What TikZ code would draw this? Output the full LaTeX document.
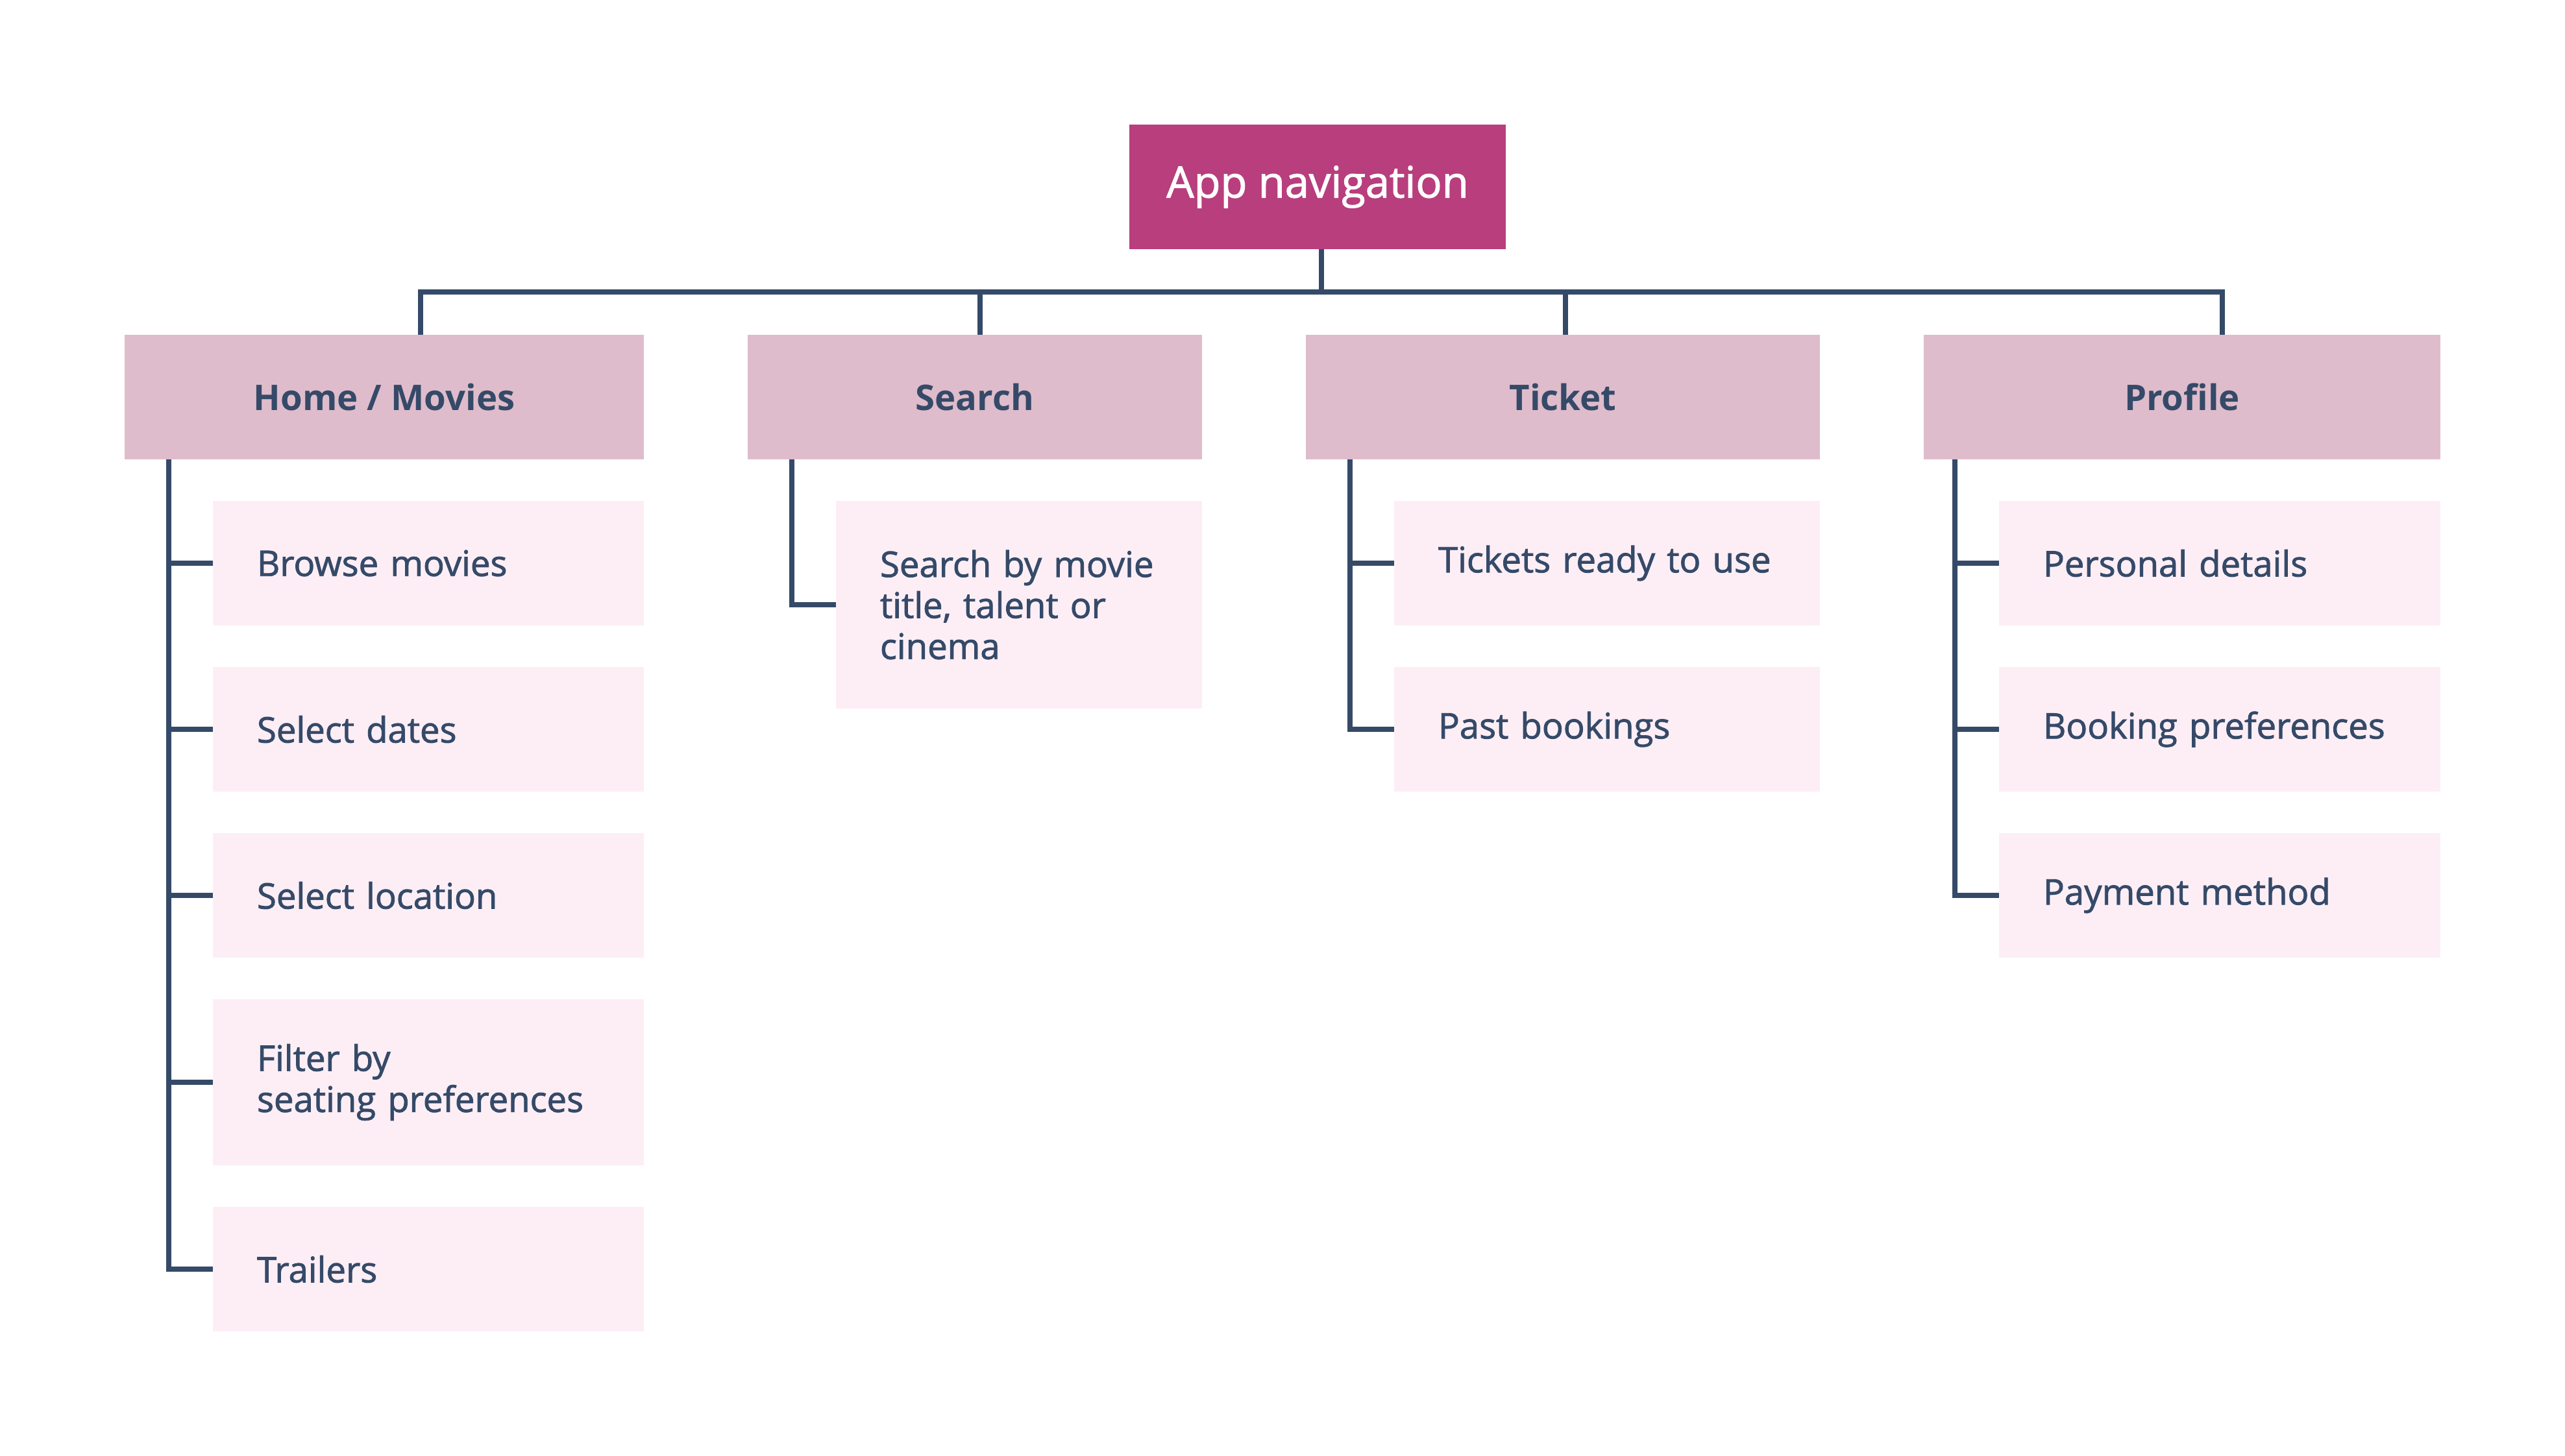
\documentclass[tikz,border=0pt]{standalone}
\usepackage{fontspec}
\setmainfont{Open Sans}
\newfontfamily\medfont{Open Sans}[FakeBold=1.6]
\usetikzlibrary{positioning}
\definecolor{navroot}{HTML}{B83E7D}
\definecolor{navhead}{HTML}{DFBCCB}
\definecolor{navitem}{HTML}{FDEEF6}
\definecolor{navline}{HTML}{354A68}

\begin{document}
\begin{tikzpicture}[
    outer sep=0pt,
    rootbox/.style={fill=navroot, text=white, minimum width=5.8cm, minimum height=1.92cm, font=\medfont\fontsize{19}{22}\selectfont},
    headbox/.style={fill=navhead, text=navline, minimum height=1.92cm, font=\bfseries\fontsize{15.5}{18}\selectfont},
    itembox/.style={fill=navitem, text=navline, minimum height=1.92cm, inner xsep=6.8mm, align=left, font=\medfont\fontsize{15.5}{18}\selectfont},
    link/.style={draw=navline, line width=0.75mm}
  ]
  \useasboundingbox (0,0) rectangle (39.52,-22.44);

  \node[rootbox] (root) at (20.30,-2.88) {App navigation};

  \node[headbox, minimum width=8cm] (home) at (5.92,-6.12) {Home / Movies};
  \node[headbox, minimum width=7cm, right=1.6cm of home] (search) {Search};
  \node[headbox, minimum width=7.92cm, right=1.6cm of search] (ticket) {Ticket};
  \node[headbox, minimum width=7.96cm, right=1.6cm of ticket] (profile) {Profile};

  \node[itembox, text width=5.28cm, below=0.64cm of home.south east, anchor=north east] (browse) {Browse movies};
  \node[itembox, text width=5.28cm, below=0.64cm of browse] (dates) {Select dates};
  \node[itembox, text width=5.28cm, below=0.64cm of dates] (location) {Select location};
  \node[itembox, text width=5.28cm, minimum height=2.56cm, below=0.64cm of location] (filter) {Filter by\\seating preferences};
  \node[itembox, text width=5.28cm, below=0.64cm of filter] (trailers) {Trailers};

  \node[itembox, text width=4.28cm, minimum height=3.2cm, below=0.64cm of search.south east, anchor=north east] (byname) {Search by movie\\title, talent or\\cinema};

  \node[itembox, text width=5.2cm, below=0.64cm of ticket.south east, anchor=north east] (ready) {Tickets ready to use};
  \node[itembox, text width=5.2cm, below=0.64cm of ready] (past) {Past bookings};

  \node[itembox, text width=5.44cm, below=0.64cm of profile.south east, anchor=north east] (personal) {Personal details};
  \node[itembox, text width=5.44cm, below=0.64cm of personal] (booking) {Booking preferences};
  \node[itembox, text width=5.44cm, below=0.64cm of booking] (payment) {Payment method};

  \draw[link] ([xshift=0.6mm]root.south) -- ++(0,-0.66);
  \draw[link] ([xshift=5.6mm]home.north) -- ++(0,0.66) -| ([xshift=6.2mm]profile.north);
  \draw[link] ([xshift=0.8mm]search.north) -- ++(0,0.66);
  \draw[link] ([xshift=0.4mm]ticket.north) -- ++(0,0.66);

  \draw[link] ([xshift=6.8mm]home.south west) |- (trailers.west);
  \draw[link] (browse.west) -- ++(-0.68,0);
  \draw[link] (dates.west) -- ++(-0.68,0);
  \draw[link] (location.west) -- ++(-0.68,0);
  \draw[link] (filter.west) -- ++(-0.68,0);

  \draw[link] ([xshift=6.8mm]search.south west) |- (byname.west);

  \draw[link] ([xshift=6.8mm]ticket.south west) |- (past.west);
  \draw[link] (ready.west) -- ++(-0.68,0);

  \draw[link] ([xshift=4.8mm]profile.south west) |- (payment.west);
  \draw[link] (personal.west) -- ++(-0.68,0);
  \draw[link] (booking.west) -- ++(-0.68,0);
\end{tikzpicture}
\end{document}
